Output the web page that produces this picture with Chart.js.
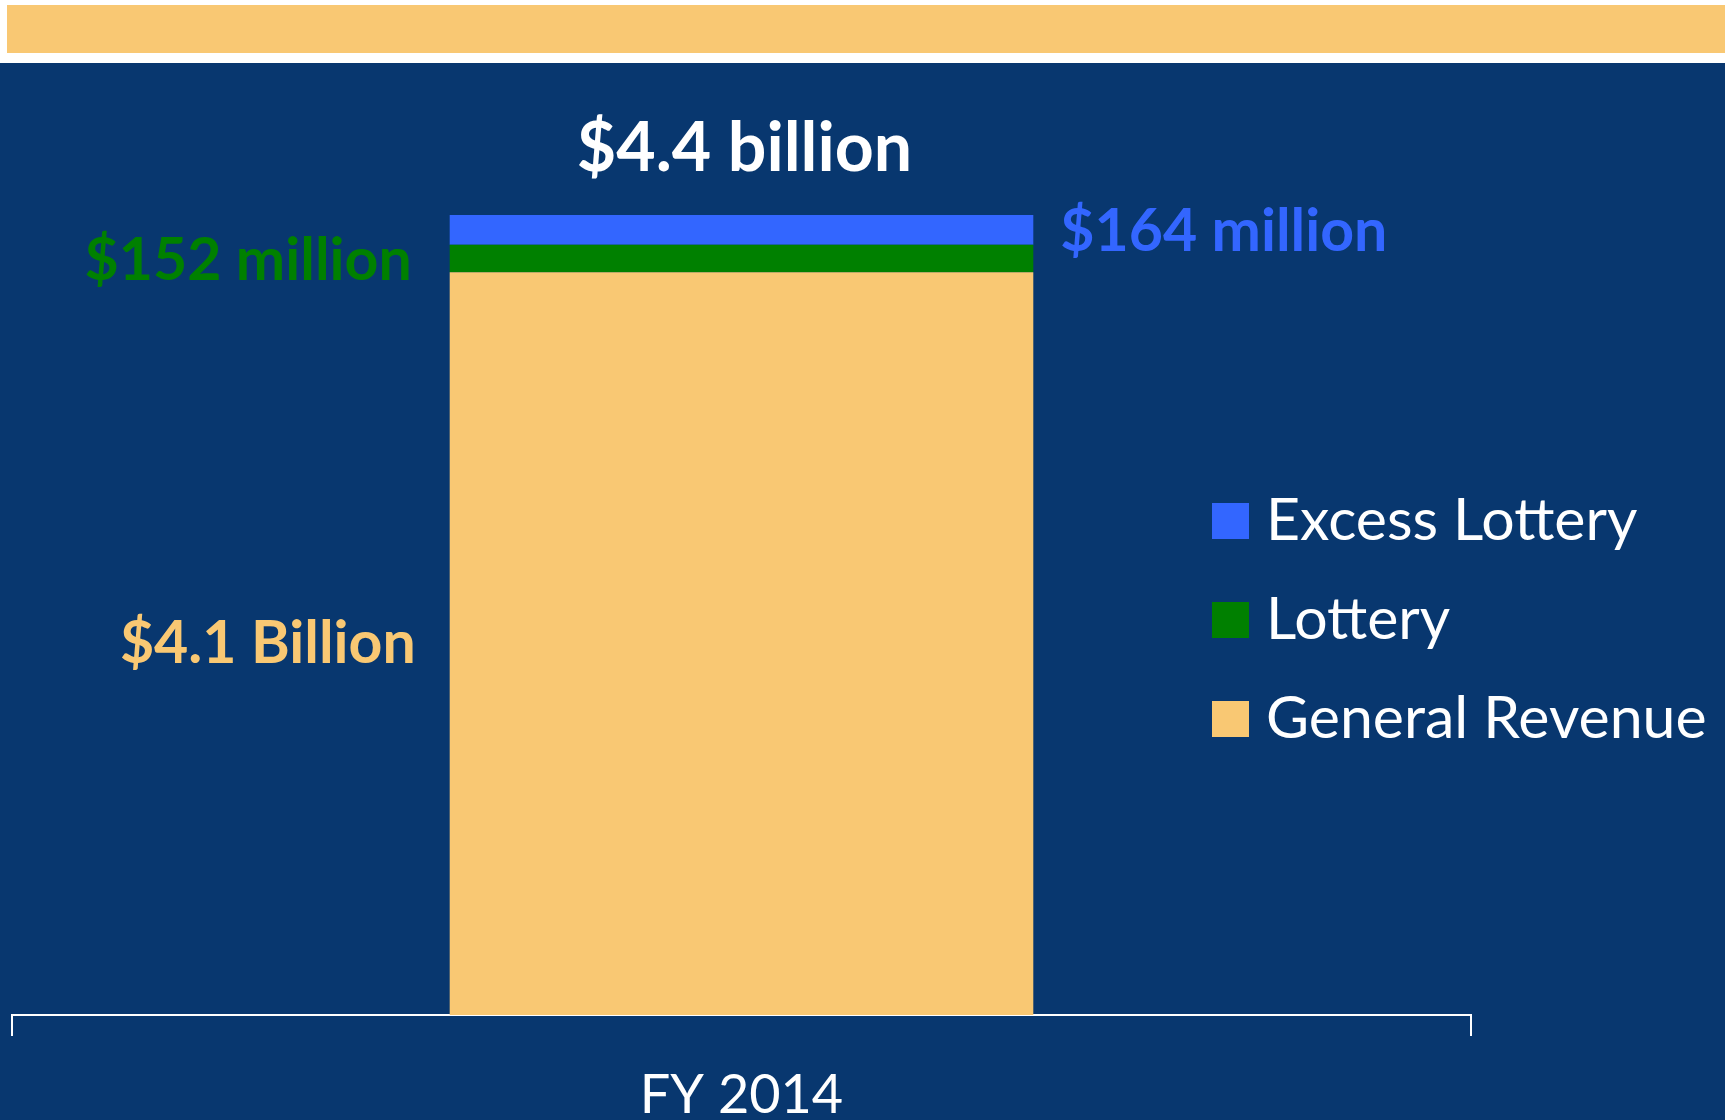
<!DOCTYPE html>
<html>
<head>
<meta charset="utf-8">
<script src="https://cdn.jsdelivr.net/npm/chart.js@4.4.0/dist/chart.umd.min.js"></script>
<style>
  html, body { margin: 0; padding: 0; background: #ffffff; }
  #wrap { width: 1725px; height: 1120px; position: relative; }
</style>
</head>
<body>
<div id="wrap"><canvas id="fundChart"></canvas></div>
<script>
const categories = ["FY 2014"];
const seriesNames = ["General Revenue", "Lottery", "Excess Lottery"];
const generalRevenue = [4100];
const lottery = [152];
const excessLottery = [164];
const valueLabels = ["$4.1 Billion", "$152 million", "$164 million"];
const totalLabel = "$4.4 billion";

const navy = "#08376f";
const orange = "#f9c873";
const green = "#008000";
const blue = "#3366ff";
const fontName = "Lato, 'Open Sans', sans-serif";

const totalValue = generalRevenue[0] + lottery[0] + excessLottery[0];

// page background: banner + navy panel
const backgroundPlugin = {
  id: "pageBg",
  beforeDraw(chart) {
    const ctx = chart.ctx;
    ctx.save();
    ctx.fillStyle = "#ffffff";
    ctx.fillRect(0, 0, chart.width, chart.height);
    ctx.fillStyle = orange;
    ctx.fillRect(7, 5, chart.width - 7, 48);
    ctx.fillStyle = navy;
    ctx.fillRect(0, 63, chart.width, chart.height - 63);
    ctx.restore();
  },
};

// value labels next to the stacked bar and the custom legend
const labelPlugin = {
  id: "valueLabels",
  afterDatasetsDraw(chart) {
    const ctx = chart.ctx;
    const gr = chart.getDatasetMeta(0).data[0];
    const lo = chart.getDatasetMeta(1).data[0];
    const ex = chart.getDatasetMeta(2).data[0];
    const left = gr.x - gr.width / 2;
    const right = gr.x + gr.width / 2;

    ctx.save();
    ctx.textBaseline = "middle";
    ctx.font = "bold 59px " + fontName;

    ctx.fillStyle = orange;
    ctx.textAlign = "right";
    ctx.fillText(valueLabels[0], left - 34, (gr.y + gr.base) / 2);

    ctx.fillStyle = green;
    ctx.fillText(valueLabels[1], left - 38, (lo.y + lo.base) / 2 + 2);

    ctx.fillStyle = blue;
    ctx.textAlign = "left";
    ctx.fillText(valueLabels[2], right + 27, (ex.y + ex.base) / 2 + 2);

    ctx.fillStyle = "#ffffff";
    ctx.textAlign = "center";
    ctx.font = "bold 68px " + fontName;
    ctx.fillText(totalLabel, gr.x + 3, ex.y - 66);

    // legend, top to bottom = reverse of stack order
    const legendItems = [
      { text: seriesNames[2], color: blue },
      { text: seriesNames[1], color: green },
      { text: seriesNames[0], color: orange },
    ];
    ctx.font = "59px " + fontName;
    ctx.textAlign = "left";
    legendItems.forEach((item, i) => {
      const y = 521 + i * 99;
      ctx.fillStyle = item.color;
      ctx.fillRect(1212, y - 18, 37, 36);
      ctx.fillStyle = "#ffffff";
      ctx.fillText(item.text, 1266, y);
    });
    ctx.restore();
  },
};

const data = {
  labels: categories,
  datasets: [
    { label: seriesNames[0], data: generalRevenue, backgroundColor: orange },
    { label: seriesNames[1], data: lottery, backgroundColor: green },
    { label: seriesNames[2], data: excessLottery, backgroundColor: blue },
  ],
};

const config = {
  type: "bar",
  data: data,
  options: {
    responsive: true,
    maintainAspectRatio: false,
    animation: false,
    barPercentage: 0.4,
    categoryPercentage: 1,
    layout: { padding: { left: 12, right: 254, top: 215, bottom: 0 } },
    plugins: {
      legend: { display: false },
      tooltip: { enabled: false },
    },
    scales: {
      x: {
        stacked: true,
        afterFit: (scale) => { scale.height = 105; }, // label runs off the bottom edge
        border: { display: true, color: "#ffffff", width: 2 },
        grid: {
          offset: true,
          drawOnChartArea: false,
          drawTicks: true,
          tickLength: 21,
          color: "#ffffff",
          lineWidth: 2,
        },
        ticks: {
          color: "#ffffff",
          padding: 27,
          font: { family: fontName, size: 54 },
        },
      },
      y: {
        stacked: true,
        display: false,
        min: 0,
        max: totalValue,
      },
    },
  },
  plugins: [backgroundPlugin, labelPlugin],
};

const fundChart = new Chart(document.getElementById("fundChart"), config);
</script>
</body>
</html>
